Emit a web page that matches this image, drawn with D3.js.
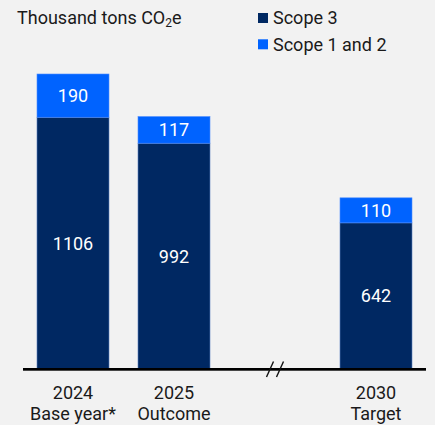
<!DOCTYPE html>
<html><head><meta charset="utf-8">
<script src="https://cdn.jsdelivr.net/npm/d3@7"></script>
<style>
html,body{margin:0;padding:0;background:#f2f2f2;}
text{font-family:Roboto,"Noto Sans",sans-serif;}
</style></head>
<body>
<svg id="c" width="435" height="425"></svg>
<script>
const categories = ["2024", "2025", "gap", "2030"];
const subLabels = ["Base year*", "Outcome", "", "Target"];
const scope3 = [1106, 992, null, 642];
const scope12 = [190, 117, null, 110];
const seriesNames = ["Scope 3", "Scope 1 and 2"];
const colors = ["#002862", "#0063ff"];

const svg = d3.select("#c");
const W = 435, H = 425;
svg.append("rect").attr("width", W).attr("height", H).attr("fill", "#f2f2f2");

const x = d3.scaleBand().domain(categories).range([37, 412]).paddingInner(29/101).paddingOuter(0);
const y = d3.scaleLinear().domain([0, 1296]).range([369, 74]);

const rows = categories.map((c, i) => ({cat: c, s3: scope3[i], s12: scope12[i], sub: subLabels[i]})).filter(d => d.s3 != null);
const FS = 18;

// bars
const g = svg.append("g");
rows.forEach(d => {
  g.append("rect").attr("x", x(d.cat)).attr("width", x.bandwidth())
    .attr("y", y(d.s3)).attr("height", y(0) - y(d.s3)).attr("fill", colors[0])
    .attr("stroke", "#5b7fbf").attr("stroke-width", 0.6);
  g.append("rect").attr("x", x(d.cat)).attr("width", x.bandwidth())
    .attr("y", y(d.s3 + d.s12)).attr("height", y(d.s3) - y(d.s3 + d.s12)).attr("fill", colors[1])
    .attr("stroke", "#4d8cff").attr("stroke-width", 0.6);
  g.append("text").attr("x", x(d.cat) + x.bandwidth()/2).attr("y", (y(0) + y(d.s3))/2)
    .attr("text-anchor", "middle").attr("dominant-baseline", "central")
    .attr("fill", "#fff").attr("font-size", FS).text(d.s3);
  g.append("text").attr("x", x(d.cat) + x.bandwidth()/2).attr("y", (y(d.s3) + y(d.s3 + d.s12))/2)
    .attr("text-anchor", "middle").attr("dominant-baseline", "central")
    .attr("fill", "#fff").attr("font-size", FS).text(d.s12);
});

// axis line (baseline)
svg.append("rect").attr("x", 23).attr("y", y(0) - 1).attr("width", 403).attr("height", 2.7)
  .attr("fill", "#000");

// break mark
const bx = x("gap") + x.bandwidth()/2;
[-5, 5].forEach(o => {
  svg.append("line").attr("x1", bx + o - 3.5).attr("y1", y(0) + 8).attr("x2", bx + o + 3.5).attr("y2", y(0) - 7.5)
    .attr("stroke", "#111").attr("stroke-width", 1.4);
});

// category labels
rows.forEach(d => {
  const cx = x(d.cat) + x.bandwidth()/2;
  svg.append("text").attr("x", cx).attr("y", 398.5).attr("text-anchor", "middle")
    .attr("fill", "#1a1a1a").attr("font-size", FS).text(d.cat);
  svg.append("text").attr("x", cx).attr("y", 420).attr("text-anchor", "middle")
    .attr("fill", "#1a1a1a").attr("font-size", FS).text(d.sub);
});

// title
const t = svg.append("text").attr("x", 17).attr("y", 24).attr("fill", "#1a1a1a").attr("font-size", FS);
t.append("tspan").text("Thousand tons CO");
t.append("tspan").attr("font-size", 12).attr("dy", 3).text("2");
t.append("tspan").attr("dy", -3).text("e");

// legend
seriesNames.forEach((n, i) => {
  const ly = 24 + i * 26.5;
  svg.append("rect").attr("x", 258).attr("y", 13 + i * 26.3).attr("width", 10).attr("height", 10).attr("fill", colors[i]);
  svg.append("text").attr("x", 273).attr("y", ly)
    .attr("fill", "#1a1a1a").attr("font-size", FS).text(n);
});
</script>
</body></html>
